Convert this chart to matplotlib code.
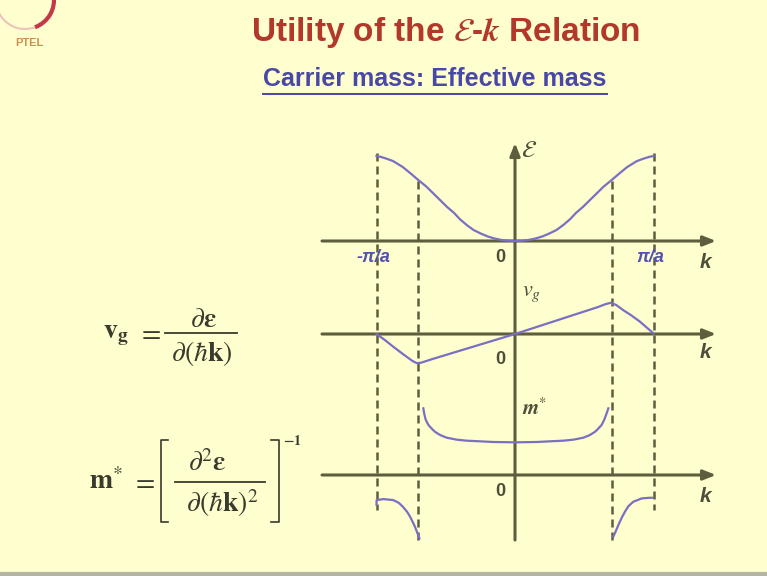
import matplotlib
matplotlib.use("Agg")
from matplotlib import pyplot as plt
from matplotlib.patches import Arc

W, H = 767, 576
BG = '#fefece'
AXC = '#5e5e3e'
CURVE = '#7a6fc2'
LBL = '#5252b2'
INK = '#3a3a2e'
GREY = '#4e4e3a'

# k in units of pi/a; zone edge and inflection points
k_lines = [-1.0, -0.7, 0.7, 1.0]

# energy band E(k)
k_E = [-1.0, -0.97, -0.93, -0.88, -0.81, -0.75, -0.70, -0.64, -0.59, -0.54, -0.49, -0.44,
       -0.40, -0.35, -0.30, -0.25, -0.20, -0.15, -0.10, -0.05, 0.0,
       0.05, 0.10, 0.15, 0.20, 0.25, 0.30, 0.35, 0.40, 0.44, 0.49, 0.54, 0.59, 0.64,
       0.70, 0.75, 0.81, 0.88, 0.93, 0.97, 1.0]
E = [1.0, 0.99, 0.97, 0.94, 0.87, 0.79, 0.72, 0.64, 0.56, 0.48, 0.40, 0.33,
     0.26, 0.19, 0.13, 0.09, 0.055, 0.03, 0.013, 0.004, 0.0,
     0.004, 0.013, 0.03, 0.055, 0.09, 0.13, 0.19, 0.26, 0.33, 0.40, 0.48, 0.56, 0.64,
     0.72, 0.79, 0.87, 0.94, 0.97, 0.99, 1.0]

# group velocity
k_vg = [-1.0, -0.94, -0.88, -0.80, -0.74, -0.71, -0.68, -0.60, -0.40, -0.20, 0.0,
        0.20, 0.40, 0.60, 0.65, 0.69, 0.73, 0.78, 0.84, 0.90, 0.95, 1.0]
vg = [0.0, -0.20, -0.42, -0.70, -0.90, -0.97, -0.96, -0.84, -0.56, -0.28, 0.0,
      0.30, 0.60, 0.90, 0.99, 1.04, 0.97, 0.80, 0.62, 0.42, 0.22, 0.02]

# effective mass, central branch
k_m = [-0.662, -0.655, -0.645, -0.626, -0.60, -0.578, -0.54, -0.493, -0.42, -0.349, -0.25, -0.157, 0.0,
       0.157, 0.25, 0.349, 0.42, 0.493, 0.54, 0.578, 0.60, 0.626, 0.645, 0.66, 0.674]
m = [2.02, 1.85, 1.68, 1.52, 1.40, 1.31, 1.21, 1.13, 1.07, 1.04, 1.02, 1.0, 0.99,
     1.0, 1.02, 1.04, 1.07, 1.13, 1.21, 1.31, 1.40, 1.52, 1.68, 1.85, 2.02]

# effective mass, negative branches near the zone edges
k_m_left = [-1.0, -0.999, -0.95, -0.88, -0.84, -0.81, -0.78, -0.758, -0.74, -0.722, -0.69]
m_left = [-0.90, -0.76, -0.73, -0.76, -0.84, -0.96, -1.11, -1.26, -1.41, -1.57, -1.92]
k_m_right = [0.71, 0.73, 0.746, 0.77, 0.794, 0.82, 0.854, 0.915, 0.97, 0.99]
m_right = [-1.87, -1.68, -1.52, -1.30, -1.11, -0.94, -0.81, -0.71, -0.69, -0.69]

plt.rcParams['mathtext.fontset'] = 'stix'
plt.rcParams['font.family'] = ['Liberation Sans', 'DejaVu Sans']

fig = plt.figure(figsize=(W / 100, H / 100), dpi=100, facecolor=BG)
canvas = fig.add_axes([0, 0, 1, 1])
canvas.set_xlim(0, W)
canvas.set_ylim(H, 0)
canvas.axis('off')

# horizontal scale shared by all three panels
X0, X1 = 300, 730
KC, KX = 515, 138.5


def kpx(k):
    return KC + KX * k


def panel(top, bottom, zero, scale):
    ax = fig.add_axes([X0 / W, 1 - bottom / H, (X1 - X0) / W, (bottom - top) / H])
    ax.set_xlim((X0 - KC) / KX, (X1 - KC) / KX)
    ax.set_ylim(-(bottom - zero) / scale, (zero - top) / scale)
    ax.patch.set_alpha(0)
    ax.axis('off')
    return ax


def arrow(x0, y0, x1, y1):
    canvas.annotate('', xy=(x1, y1), xytext=(x0, y0),
                    arrowprops=dict(arrowstyle='-|>,head_length=0.75,head_width=0.3',
                                    color=AXC, lw=2.2, shrinkA=0, shrinkB=0))


# axes
for y in (241, 334, 475):
    arrow(322, y, 716, y)
arrow(KC, 540, KC, 143)

# dashed guides
for k in k_lines:
    top, bot = (153, 510) if abs(k) == 1 else (181, 541)
    canvas.plot([kpx(k)] * 2, [top, bot], color=AXC, lw=1.8, ls=(0, (3.2, 2.0)))

ax_E = panel(140, 250, 241, 85)
ax_E.plot(k_E, E, color=CURVE, lw=1.6)

ax_v = panel(280, 380, 334, 30)
ax_v.plot(k_vg, vg, color=CURVE, lw=1.6)

ax_m = panel(395, 545, 475, 33)
ax_m.plot(k_m, m, color=CURVE, lw=1.6)
ax_m.plot(k_m_left, m_left, color=CURVE, lw=1.6)
ax_m.plot(k_m_right, m_right, color=CURVE, lw=1.6)

# axis labels
for y in (258, 359, 492):
    canvas.text(500, y, '0', fontsize=13, fontweight='bold', color=GREY, ha='center', va='center')
for y in (263, 353, 497):
    canvas.text(705, y, 'k', fontsize=15, fontweight='bold', style='italic',
                color=GREY, ha='center', va='center')
canvas.text(373, 257, '-π/a', fontsize=13, fontweight='bold', style='italic',
            color=LBL, ha='center', va='center')
canvas.text(650, 257, 'π/a', fontsize=13, fontweight='bold', style='italic',
            color=LBL, ha='center', va='center')
canvas.text(521, 151, '$\\mathcal{E}$', fontsize=17, color=GREY, ha='left', va='center')
canvas.text(522, 293, '$v_g$', fontsize=16, color=GREY, ha='left', va='center')
canvas.text(522, 408, '$\\mathbfit{m}^{*}$', fontsize=15, color=GREY, ha='left', va='center')

# group velocity formula
fs = 20
canvas.text(116, 335, r'$\mathbf{v}_{\mathbf{g}}$', fontsize=fs, color=INK, ha='center', va='center')
canvas.text(149, 333, '$=$', fontsize=fs, color=INK, ha='center', va='center')
canvas.text(203, 320, r'$\partial\mathbf{\varepsilon}$', fontsize=fs, color=INK, ha='center', va='center')
canvas.plot([165, 237], [333, 333], color=INK, lw=1.3)
canvas.text(202, 354, r'$\partial(\hbar\mathbf{k})$', fontsize=fs, color=INK, ha='center', va='center')

# effective mass formula
canvas.text(106, 482, r'$\mathbf{m}^{*}$', fontsize=fs, color=INK, ha='center', va='center')
canvas.text(143, 482, '$=$', fontsize=fs, color=INK, ha='center', va='center')
canvas.plot([168, 161, 161, 168], [440, 440, 522, 522], color=INK, lw=1.2)
canvas.text(207, 464, r'$\partial^{2}\mathbf{\varepsilon}$', fontsize=fs, color=INK, ha='center', va='center')
canvas.plot([175, 265], [482, 482], color=INK, lw=1.3)
canvas.text(222, 503, r'$\partial\left(\hbar\mathbf{k}\right)^{2}$', fontsize=fs, color=INK,
            ha='center', va='center')
canvas.plot([271, 279, 279, 271], [440, 440, 522, 522], color=INK, lw=1.2)
canvas.text(283, 441, '$\\mathbf{-1}$', fontsize=10, color=INK, ha='left', va='center')

# title and subtitle
canvas.text(446, 32, 'Utility of the $\\mathcal{E}$-$\\mathbfit{k}$ Relation', fontsize=24,
            fontweight='bold', color='#b3382c', ha='center', va='center')
sub = canvas.text(435, 79, 'Carrier mass: Effective mass', fontsize=18, fontweight='bold',
                  color='#4848a6', ha='center', va='center')
fig.canvas.draw()
bb = sub.get_window_extent().transformed(canvas.transData.inverted())
canvas.plot([bb.x0, bb.x1], [94, 94], color='#4848a6', lw=1.4)

# logo fragment in the corner
canvas.add_patch(Arc((25, 0), 58, 58, theta1=-10, theta2=70, color='#c23a4a', lw=3))
canvas.add_patch(Arc((25, 0), 58, 58, theta1=70, theta2=180, color='#ecc4bc', lw=1.5))
canvas.text(29, 43, 'PTEL', fontsize=8, fontweight='bold', color='#c8924e', ha='center', va='center')

# slide border
canvas.plot([0, W], [574, 574], color='#b5b5a5', lw=3)

fig.savefig('out.png', dpi=100, facecolor=BG)
